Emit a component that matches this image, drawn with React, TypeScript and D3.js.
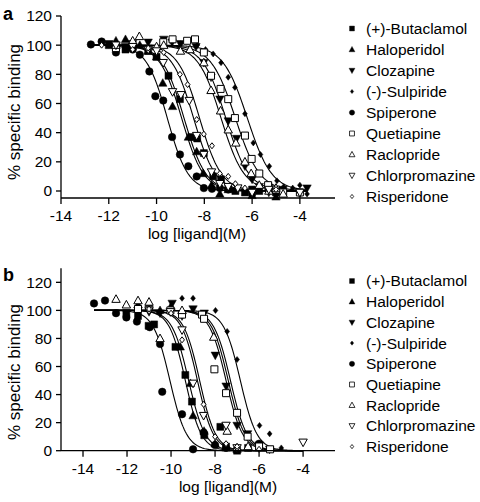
import React from 'react';
import * as d3 from 'd3';

const seriesNames = ['(+)-Butaclamol', 'Haloperidol', 'Clozapine', '(-)-Sulpiride', 'Spiperone', 'Quetiapine', 'Raclopride', 'Chlorpromazine', 'Risperidone'];
const symbolKinds = ['square', 'triangle', 'triangleDown', 'diamond', 'circle', 'square', 'triangle', 'triangleDown', 'diamond'];
const filledFlags = [true, true, true, true, true, false, false, false, false];

const xTicks = [-14, -12, -10, -8, -6, -4];
const yTicks = [0, 20, 40, 60, 80, 100, 120];

// Panel a: fitted logIC50 and Hill slopes (series order as seriesNames)
const aLogIC50 = [-8.85, -8.95, -7.1, -6.2, -9.55, -6.7, -7.3, -8.45, -8.2];
const aHill = [0.95, 0.95, 0.9, 0.85, 1.0, 0.85, 0.9, 0.95, 0.95];

// Panel b
const bLogIC50 = [-9.2, -9.35, -7.3, -6.85, -10.05, -7.4, -7.5, -8.8, -8.7];
const bHill = [1.15, 1.2, 1.15, 1.15, 1.15, 1.15, 1.15, 1.2, 1.2];

// Panel a points
const aButaclamol = [[-12.0, 100], [-11.7, 98], [-11.3, 97], [-11.0, 99], [-10.35, 96], [-10.0, 92], [-9.5, 79], [-9.02, 63], [-8.53, 37], [-8.3, 36], [-8.02, 26], [-7.63, 10], [-7.3, 8], [-7.0, 2], [-6.7, 0], [-6.3, -1], [-6.0, 1], [-5.7, 0], [-5.3, 2], [-5.0, -1]];
const aHaloperidol = [[-11.7, 103], [-11.3, 104], [-11.0, 101], [-10.7, 100], [-10.35, 96], [-10.0, 92], [-9.74, 74], [-9.33, 58], [-8.67, 37], [-8.32, 27], [-8.05, 12], [-7.7, 4], [-7.35, -2], [-7.0, 1], [-6.0, -3], [-5.0, -4]];
const aClozapine = [[-12.0, 101], [-11.3, 99], [-11.0, 101], [-10.35, 102], [-9.7, 104], [-9.35, 102], [-9.0, 101], [-8.35, 99], [-8.02, 88], [-7.72, 78], [-7.35, 63], [-7.0, 48], [-6.65, 36], [-6.3, 17], [-6.0, 8], [-5.7, 3], [-5.3, -1], [-4.7, 1], [-4.0, -2], [-3.7, 2]];
const aSulpiride = [[-9.0, 101], [-8.3, 100], [-7.95, 97], [-7.63, 94], [-7.3, 88], [-7.0, 78], [-6.72, 71], [-6.3, 53], [-5.95, 33], [-5.65, 25], [-5.28, 17], [-4.96, 7], [-4.68, 3], [-4.3, 2], [-4.0, 4], [-3.7, -2]];
const aSpiperone = [[-12.75, 100.5], [-12.3, 102.5], [-11.7, 95], [-11.0, 97], [-10.7, 93.5], [-10.3, 82], [-10.05, 65], [-9.72, 62], [-9.35, 37], [-9.02, 25], [-8.67, 17], [-8.32, 10], [-8.02, 2], [-7.68, 1.5], [-7.35, 2], [-7.0, 1], [-6.0, -2]];
const aQuetiapine = [[-11.7, 98], [-9.72, 102], [-9.33, 104], [-8.72, 103], [-8.39, 104], [-8.02, 95], [-7.72, 79], [-7.32, 70], [-7.0, 63], [-6.72, 50], [-6.3, 38], [-6.02, 22], [-5.7, 12], [-5.33, 4], [-5.0, 1], [-4.7, -1], [-4.0, -1]];
const aRaclopride = [[-11.7, 100], [-11.0, 103], [-10.72, 106], [-10.0, 99], [-9.7, 100], [-9.0, 96], [-8.6, 97], [-8.02, 88], [-7.72, 69], [-7.32, 55], [-7.0, 42], [-6.68, 33], [-6.3, 20], [-6.04, 12], [-5.7, 4], [-5.3, 0], [-5.0, 2], [-4.7, -2]];
const aChlorpromazine = [[-11.7, 100], [-11.0, 99], [-10.35, 97], [-10.0, 96], [-9.72, 88], [-9.33, 68], [-8.98, 66], [-8.63, 62], [-8.32, 38], [-8.02, 25], [-7.7, 13], [-7.35, 5], [-7.0, 3], [-6.6, 2], [-6.0, -1], [-5.3, 1], [-4.0, -1]];
const aRisperidone = [[-12.3, 100], [-11.0, 97], [-10.35, 98], [-9.7, 95], [-9.02, 80], [-8.7, 73], [-8.32, 49], [-8.02, 39], [-7.68, 31], [-7.35, 12], [-7.0, 10], [-6.7, 5], [-6.3, 2], [-5.0, 1]];

// Panel b points
const bButaclamol = [[-12.03, 98], [-11.5, 96], [-11.02, 89], [-10.77, 90], [-9.8, 74], [-9.35, 54], [-9.05, 35], [-8.49, 11], [-7.76, 17], [-7.5, 3], [-7.0, 0], [-6.5, 2]];
const bHaloperidol = [[-11.5, 104], [-11.0, 105], [-10.5, 100], [-10.0, 103], [-9.58, 74], [-9.12, 48], [-9.0, 25], [-8.5, 14], [-8.0, 5], [-7.5, 2], [-7.0, 1]];
const bClozapine = [[-11.5, 100], [-11.0, 99], [-10.5, 98], [-9.95, 105], [-9.5, 96], [-9.0, 101], [-8.49, 98], [-7.99, 68], [-7.5, 46], [-7.0, 18], [-6.52, 12], [-6.0, 4], [-5.52, 1]];
const bSulpiride = [[-11.0, 100], [-10.5, 99], [-9.5, 108.6], [-9.0, 108.6], [-7.98, 100], [-7.45, 85], [-7.0, 65], [-5.98, 18], [-5.52, 12], [-4.99, 2]];
const bSpiperone = [[-13.5, 105], [-13.0, 107], [-12.5, 98], [-12.03, 95], [-11.55, 92], [-10.97, 88], [-10.5, 76], [-10.4, 42], [-9.5, 26], [-9.0, 1], [-8.52, 13], [-8.0, 4], [-7.5, 2], [-6.0, 5]];
const bQuetiapine = [[-11.5, 101], [-10.03, 100], [-9.5, 97], [-8.59, 97], [-8.5, 94], [-8.03, 58], [-7.5, 41], [-7.0, 27], [-6.52, 10], [-6.0, 3], [-5.5, 1]];
const bRaclopride = [[-12.5, 108], [-12.03, 104], [-11.5, 107], [-11.0, 106], [-10.5, 80], [-9.5, 100], [-8.06, 81], [-7.45, 14], [-7.0, 2], [-6.5, 3]];
const bChlorpromazine = [[-11.0, 100], [-10.03, 99], [-9.5, 86], [-9.0, 48], [-8.52, 25], [-7.5, 18], [-7.0, 2], [-4.0, 6]];
const bRisperidone = [[-11.0, 101], [-10.0, 98], [-9.5, 79], [-8.52, 33], [-8.0, 10], [-7.5, 5], [-7.0, 3], [-6.0, 1]];

const aPoints = [aButaclamol, aHaloperidol, aClozapine, aSulpiride, aSpiperone, aQuetiapine, aRaclopride, aChlorpromazine, aRisperidone];
const bPoints = [bButaclamol, bHaloperidol, bClozapine, bSulpiride, bSpiperone, bQuetiapine, bRaclopride, bChlorpromazine, bRisperidone];

const FONT = 'Liberation Sans, Arial, Helvetica, sans-serif';

function markerPath(kind: string, s: number): string {
  const h = s / 2;
  switch (kind) {
    case 'square':
      return `M${-h},${-h}H${h}V${h}H${-h}Z`;
    case 'triangle':
      return `M0,${-h * 1.1}L${h * 1.05},${h * 0.8}L${-h * 1.05},${h * 0.8}Z`;
    case 'triangleDown':
      return `M0,${h * 1.1}L${h * 1.05},${-h * 0.8}L${-h * 1.05},${-h * 0.8}Z`;
    case 'diamond':
      return `M0,${-h}L${h * 0.8},0L0,${h}L${-h * 0.8},0Z`;
    default:
      return d3.arc()({ innerRadius: 0, outerRadius: h, startAngle: 0, endAngle: 2 * Math.PI } as any) || '';
  }
}

const markerSizes: Record<string, number> = { square: 7, triangle: 8, triangleDown: 8, diamond: 6, circle: 7.5 };

interface PanelProps {
  label: string;
  xDomain: [number, number];
  xRange: [number, number];
  yDomain: [number, number];
  yRange: [number, number];
  axisY: number;
  curveRange: [number, number];
  ic50: number[];
  hill: number[];
  points: number[][][];
  legendY0: number;
  legendStep: number;
  labelY: number;
  ylabelY: number;
  xlabelX: number;
  xlabelY: number;
  tickLabelY: number;
}

function Panel(p: PanelProps) {
  const x = d3.scaleLinear().domain(p.xDomain).range(p.xRange);
  const y = d3.scaleLinear().domain(p.yDomain).range(p.yRange);
  const xs = d3.range(p.curveRange[0], p.curveRange[1] + 0.001, 0.05);
  const curves = p.ic50.map((ic, i) => {
    const pts = xs.map(xv => [xv, 100 / (1 + Math.pow(10, (xv - ic) * p.hill[i]))] as [number, number]);
    return d3.line<[number, number]>().x(d => x(d[0])).y(d => y(d[1]))(pts) || '';
  });
  const axisLeft = p.xRange[0];
  const yTop = p.yRange[1];
  return (
    <g>
      <text x={3} y={p.labelY} fontFamily={FONT} fontWeight="bold" fontSize={18}>{p.label}</text>
      {curves.map((c, i) => (
        <path key={'c' + i} d={c} fill="none" stroke="#000" strokeWidth={1.1} />
      ))}
      {p.points.map((pts, i) =>
        pts.map((d, k) => (
          <path
            key={'p' + i + '_' + k}
            d={markerPath(symbolKinds[i], markerSizes[symbolKinds[i]])}
            transform={`translate(${x(d[0])},${y(d[1])})`}
            fill={filledFlags[i] ? '#000' : '#fff'}
            stroke="#000"
            strokeWidth={filledFlags[i] ? 0.5 : 1}
          />
        ))
      )}
      <line x1={axisLeft} x2={axisLeft} y1={yTop} y2={p.axisY} stroke="#000" strokeWidth={1.3} />
      <line x1={axisLeft} x2={p.xRange[1]} y1={p.axisY} y2={p.axisY} stroke="#000" strokeWidth={1.3} />
      {yTicks.map(t => (
        <g key={'yt' + t}>
          <line x1={axisLeft - 5} x2={axisLeft} y1={y(t)} y2={y(t)} stroke="#000" strokeWidth={1.3} />
          <text x={axisLeft - 9} y={y(t)} dy="0.35em" textAnchor="end" fontFamily={FONT} fontSize={15.5}>{t}</text>
        </g>
      ))}
      {xTicks.map(t => (
        <g key={'xt' + t}>
          <line x1={x(t)} x2={x(t)} y1={p.axisY} y2={p.axisY + 6} stroke="#000" strokeWidth={1.3} />
          <text x={x(t)} y={p.tickLabelY} dy="0.35em" textAnchor="middle" fontFamily={FONT} fontSize={15.5}>{t}</text>
        </g>
      ))}
      <text x={p.xlabelX} y={p.xlabelY} dy="0.35em" textAnchor="middle" fontFamily={FONT} fontSize={15.5}>log [ligand](M)</text>
      <text transform={`translate(14,${p.ylabelY}) rotate(-90)`} dy="0.35em" textAnchor="middle" fontFamily={FONT} fontSize={17}>% specific binding</text>
      {seriesNames.map((n, i) => {
        const ly = p.legendY0 + i * p.legendStep;
        return (
          <g key={'l' + i}>
            <path d={markerPath(symbolKinds[i], markerSizes[symbolKinds[i]] * 0.7)} transform={`translate(352,${ly})`} fill={filledFlags[i] ? '#000' : '#fff'} stroke="#000" strokeWidth={filledFlags[i] ? 0.4 : 0.8} />
            <text x={366} y={ly} dy="0.35em" fontFamily={FONT} fontSize={15.5}>{n}</text>
          </g>
        );
      })}
    </g>
  );
}

export default function App() {
  return (
    <svg width={480} height={502} style={{ position: 'absolute', left: 0, top: 0, background: '#fff' }}>
      <rect x={0} y={0} width={480} height={502} fill="#fff" />
      <Panel
        label="a"
        xDomain={[-14, -2.53]}
        xRange={[61, 335]}
        yDomain={[-4.8, 120]}
        yRange={[198, 16]}
        axisY={198}
        curveRange={[-12.8, -3.7]}
        ic50={aLogIC50}
        hill={aHill}
        points={aPoints}
        legendY0={28.5}
        legendStep={21}
        labelY={20}
        ylabelY={112}
        xlabelX={197}
        xlabelY={234}
        tickLabelY={216}
      />
      <Panel
        label="b"
        xDomain={[-15, -2.55]}
        xRange={[61, 335]}
        yDomain={[0, 130]}
        yRange={[450.7, 268.3]}
        axisY={450.7}
        curveRange={[-13.5, -4]}
        ic50={bLogIC50}
        hill={bHill}
        points={bPoints}
        legendY0={281}
        legendStep={20.7}
        labelY={281}
        ylabelY={372}
        xlabelX={228}
        xlabelY={487}
        tickLabelY={469}
      />
    </svg>
  );
}
